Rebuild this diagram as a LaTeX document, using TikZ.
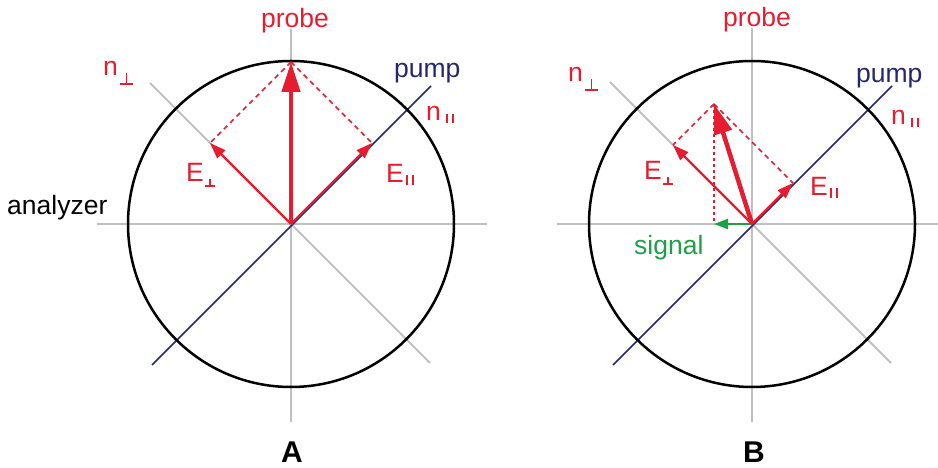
\documentclass[tikz,border=0pt]{standalone}
\usepackage{fontspec}
\setmainfont{Liberation Sans}
\usetikzlibrary{arrows.meta}
\definecolor{pred}{RGB}{228,30,48}
\definecolor{pblue}{RGB}{38,38,112}
\definecolor{pgray}{RGB}{192,192,192}
\definecolor{pgreen}{RGB}{30,160,70}
\newcommand\perpmark[3]{\raisebox{-#3}{\makebox[#1][l]{\rlap{\rule{#1}{1.8pt}}\hspace*{\dimexpr(#1-1.8pt)/2\relax}\rule{1.8pt}{#2}}}}
\newcommand\parmark[2]{\raisebox{-#2}{\rule{1.8pt}{#1}\hspace*{4.5pt}\rule{1.8pt}{#1}}}
\newcommand\nperp{n\hspace*{2pt}\perpmark{13pt}{12pt}{9pt}}
\newcommand\npar{n\hspace*{5pt}\parmark{9pt}{2pt}}
\newcommand\Eperp{E\hspace*{1pt}\perpmark{10pt}{8pt}{5pt}}
\newcommand\Epar{E\hspace*{2pt}\parmark{10pt}{2pt}}
\tikzset{
  axisline/.style={pgray, line width=2pt},
  pumpline/.style={pblue, line width=1.5pt},
  ring/.style={black, line width=2.5pt},
  bigvec/.style={pred, line width=4.5pt, -{Triangle[length=30pt,width=18pt]}},
  compvec/.style={pred, line width=2.4pt, -{Triangle[length=16pt,width=11pt]}},
  proj/.style={pred, line width=1.6pt, dash pattern=on 5pt off 4pt},
  vproj/.style={pred, line width=1.6pt, dash pattern=on 3pt off 3pt},
  sigvec/.style={pgreen, line width=2.4pt, -{Triangle[length=14pt,width=10pt]}},
  lab/.style={font=\fontsize{26.5}{30}\selectfont, inner sep=0pt, anchor=base west},
  panel/.style={font=\bfseries\fontsize{30}{34}\selectfont, inner sep=0pt, anchor=base},
}
\begin{document}
\begin{tikzpicture}[x=1pt,y=1pt]
\useasboundingbox (0,0) rectangle (938,468);
% ---------------- Panel A ----------------
\begin{scope}[shift={(291,244)}]
  \coordinate (OA) at (0,0);
  \coordinate (hAl) at (-194,0);  \coordinate (hAr) at (196,0);
  \coordinate (vAb) at (0,-198);  \coordinate (vAt) at (0,195);
  \coordinate (dAl) at (-141,141); \coordinate (dAr) at (139,-139);
  \coordinate (pAl) at (-139,-141); \coordinate (pAr) at (140,138);
  \coordinate (prA) at (0,162);
  \coordinate (epA) at (-81,81);
  \coordinate (eqA) at (81,81);
  \draw[axisline] (hAl) -- (hAr);
  \draw[axisline] (vAb) -- (vAt);
  \draw[axisline] (dAl) -- (dAr);
  \draw[pumpline] (pAl) -- (pAr);
  \draw[ring] (OA) circle[radius=163];
  \draw[proj] (prA) -- (epA);
  \draw[proj] (prA) -- (eqA);
  \draw[compvec] (OA) -- (epA);
  \draw[compvec] (OA) -- (eqA);
  \draw[bigvec] (OA) -- (prA);
\end{scope}
\node[lab, anchor=base, text=pred] (probeA) at (295,440) {probe};
\node[lab, text=pred] (nperpA) at (103,392) {\nperp};
\node[lab, text=pblue] (pumpA) at (394,390) {pump};
\node[lab, text=pred] (nparA) at (426,347) {\npar};
\node[lab, text=pred] (EperpA) at (186,286) {\Eperp};
\node[lab, text=pred] (EparA) at (386,285) {\Epar};
\node[lab, text=black] (analyzer) at (7,253) {analyzer};
\node[panel] (labA) at (292,5) {A};
% ---------------- Panel B ----------------
\begin{scope}[shift={(752,244)}]
  \coordinate (OB) at (0,0);
  \coordinate (hBl) at (-195,0);  \coordinate (hBr) at (190,0);
  \coordinate (vBb) at (0,-198);  \coordinate (vBt) at (0,196);
  \coordinate (dBl) at (-142,142); \coordinate (dBr) at (139,-139);
  \coordinate (pBl) at (-139,-141); \coordinate (pBr) at (140,138);
  \coordinate (prB) at (-38,120);
  \coordinate (epB) at (-79,79);
  \coordinate (eqB) at (41,41);
  \coordinate (sgB) at (-38,0);
  \draw[axisline] (hBl) -- (hBr);
  \draw[axisline] (vBb) -- (vBt);
  \draw[axisline] (dBl) -- (dBr);
  \draw[pumpline] (pBl) -- (pBr);
  \draw[ring] (OB) circle[radius=163];
  \draw[proj] (prB) -- (epB);
  \draw[proj] (prB) -- (eqB);
  \draw[vproj] (prB) -- (sgB);
  \draw[compvec] (OB) -- (epB);
  \draw[compvec] (OB) -- (eqB);
  \draw[sigvec] (OB) -- (sgB);
  \draw[bigvec] (OB) -- (prB);
\end{scope}
\node[lab, anchor=base, text=pred] (probeB) at (757,441) {probe};
\node[lab, text=pred] (nperpB) at (568,386) {\nperp};
\node[lab, text=pblue] (pumpB) at (856,385) {pump};
\node[lab, text=pred] (nparB) at (891,343) {\npar};
\node[lab, text=pred] (EperpB) at (644,288) {\Eperp};
\node[lab, text=pred] (EparB) at (810,272) {\Epar};
\node[lab, text=pgreen] (signal) at (634,213) {signal};
\node[panel] (labB) at (754,5) {B};
\end{tikzpicture}
\end{document}
